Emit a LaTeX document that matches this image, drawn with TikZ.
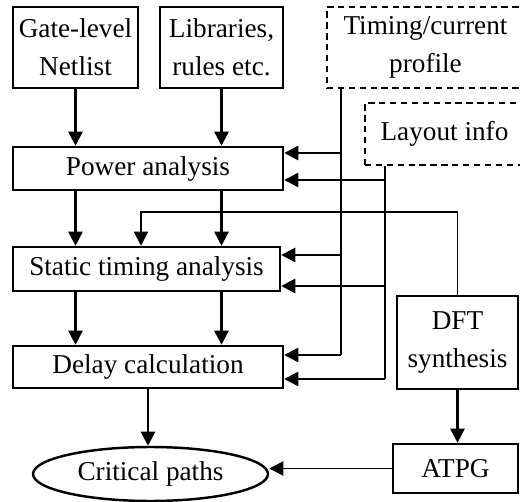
\documentclass[tikz,border=0pt]{standalone}
\usepackage{fontspec}
\setmainfont{Liberation Serif}
\usetikzlibrary{arrows.meta,shapes.geometric}

\begin{document}
\begin{tikzpicture}[
    x=0.02cm, y=-0.02cm,
    font=\fontsize{15.5}{21.5}\selectfont,
    block/.style={draw, line width=1.4pt, inner sep=0pt, align=center, text centered},
    input/.style={draw, dashed, dash pattern=on 3.6pt off 2.6pt, line width=1.2pt, inner sep=0pt, align=center},
    arrow/.style={-{Triangle[length=8pt,width=8pt]}, line width=1.4pt},
    bus/.style={line width=1.4pt}
]
\useasboundingbox (0,0) rectangle (520,502);

\node[block, minimum width=2.5cm, minimum height=1.62cm] (gate) at (75.5,47.5) {Gate-level\\Netlist};
\node[block, minimum width=2.46cm, minimum height=1.62cm] (lib) at (221.5,47.5) {Libraries,\\rules etc.};
\node[input, minimum width=3.94cm, minimum height=1.62cm] (tim) at (425.5,47.5) {Timing/current\\profile};
\node[input, minimum width=3.18cm, minimum height=1.24cm] (lay) at (444.5,134) {Layout info};

\node[block, minimum width=5.4cm, minimum height=0.86cm] (pow) at (148,168.5) {Power analysis};
\node[block, minimum width=5.34cm, minimum height=0.88cm] (sta) at (146.5,269) {Static timing analysis};
\node[block, minimum width=5.4cm, minimum height=0.84cm] (dly) at (148,367) {Delay calculation};
\node[block, minimum width=2.42cm, minimum height=1.86cm] (dft) at (457.5,342.5) {DFT\\synthesis};
\node[block, minimum width=2.5cm, minimum height=0.98cm] (atpg) at (455.5,468.5) {ATPG};
\node[block, ellipse, minimum width=4.7cm, minimum height=1.08cm] (crit) at (150.5,474) {Critical paths};

% main flow
\draw[arrow] (gate.south) -- (gate.south |- pow.north);
\draw[arrow] (lib.south) -- (lib.south |- pow.north);
\draw[arrow] (pow.south -| gate.south) -- (sta.north -| gate.south);
\draw[arrow] (pow.south -| lib.south) -- (sta.north -| lib.south);
\draw[arrow] (sta.south -| gate.south) -- (dly.north -| gate.south);
\draw[arrow] (sta.south -| lib.south) -- (dly.north -| lib.south);
\draw[arrow] (dly.south) -- (dly.south |- crit.north);

% timing/current profile bus
\coordinate (tb) at (341,355);
\draw[bus] (tim.south -| tb) -- (tb);
\foreach \n/\y in {pow/153, sta/255, dly/355}
    \draw[arrow] (tb |- 0,\y) -- (\n.east |- 0,\y);

% layout info bus
\coordinate (lb) at (385,379);
\draw[bus] (lay.south -| lb) -- (lb);
\foreach \n/\y in {pow/180, sta/286, dly/379}
    \draw[arrow] (lb |- 0,\y) -- (\n.east |- 0,\y);

% test flow
\coordinate (dftturn) at (141,212);
\draw[arrow, line width=1pt] (dft.north) |- (dftturn) -- (sta.north -| dftturn);
\draw[arrow] (dft.south) -- (dft.south |- atpg.north);
\draw[arrow, line width=1pt] (atpg.west) -- (crit.east |- atpg.west);

\end{tikzpicture}
\end{document}
